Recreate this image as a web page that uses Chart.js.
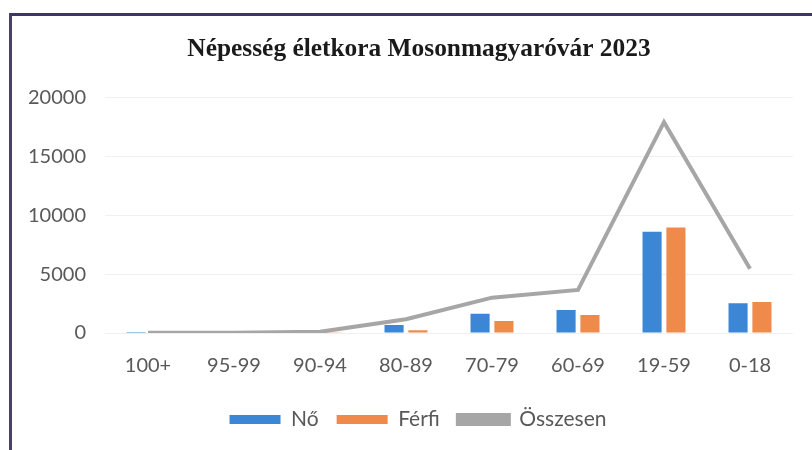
<!DOCTYPE html>
<html lang="hu">
<head>
    <meta charset="UTF-8">
    <title>Népesség életkora Mosonmagyaróvár 2023</title>
    <script src="https://cdn.jsdelivr.net/npm/chart.js"></script>
    <style>
        html, body {
            margin: 0;
            padding: 0;
            background: #fff;
            overflow: hidden;
        }

        .frame {
            position: absolute;
            left: 9px;
            top: 13px;
            width: 900px;
            height: 600px;
            border-top: 3px solid #3f3660;
            border-left: 3px solid #4a3f72;
        }

        .chart-box {
            position: absolute;
            left: 0;
            top: 0;
            width: 812px;
            height: 450px;
        }
    </style>
</head>
<body>
    <div class="frame"></div>
    <div class="chart-box">
        <canvas id="ageChart"></canvas>
    </div>

    <script>
        // age groups, left to right as on the chart
        const ageGroups = ['100+', '95-99', '90-94', '80-89', '70-79', '60-69', '19-59', '0-18'];

        // values
        const women = [8, 15, 50, 680, 1640, 1960, 8600, 2530];
        const men = [3, 8, 20, 230, 1020, 1530, 8960, 2640];
        const total = [20, 30, 100, 1170, 3000, 3660, 17900, 5450];

        const yTicks = [0, 5000, 10000, 15000, 20000];

        const tickFont = { family: 'Lato, "Open Sans", sans-serif', size: 20 };
        const legendFont = { family: 'Lato, "Open Sans", sans-serif', size: 21 };

        // title and legend sit a bit right of the plot centre in the original
        const shiftBlocks = {
            id: 'shiftBlocks',
            afterLayout(chart) {
                if (chart.titleBlock) {
                    chart.titleBlock.left += 18;
                    chart.titleBlock.right += 18;
                }
                if (chart.legend) {
                    chart.legend.left += 17;
                    chart.legend.right += 17;
                }
            }
        };

        const ctx = document.getElementById('ageChart').getContext('2d');
        const chart = new Chart(ctx, {
            type: 'bar',
            data: {
                labels: ageGroups,
                datasets: [{
                    label: 'Nő',
                    data: women,
                    backgroundColor: '#3b87d6',
                    order: 2
                }, {
                    label: 'Férfi',
                    data: men,
                    backgroundColor: '#f08a4b',
                    order: 3
                }, {
                    type: 'line',
                    label: 'Összesen',
                    data: total,
                    borderColor: '#a6a6a6',
                    backgroundColor: '#a6a6a6',
                    borderWidth: 4,
                    tension: 0,
                    pointRadius: 0,
                    order: 1
                }]
            },
            options: {
                responsive: true,
                maintainAspectRatio: false,
                animation: false,
                layout: {
                    padding: { left: 9, right: 19, top: 0, bottom: 10 }
                },
                datasets: {
                    bar: {
                        categoryPercentage: 0.555,
                        barPercentage: 0.8
                    }
                },
                plugins: {
                    title: {
                        display: true,
                        text: 'Népesség életkora Mosonmagyaróvár 2023',
                        color: '#1a1a1a',
                        font: { family: '"Liberation Serif", serif', size: 25.4, weight: 'bold' },
                        padding: { top: 34, bottom: 33 }
                    },
                    legend: {
                        position: 'bottom',
                        labels: {
                            color: '#595959',
                            font: legendFont,
                            boxWidth: 51,
                            boxHeight: 9,
                            padding: 18,
                            sort: (a, b) => a.datasetIndex - b.datasetIndex
                        }
                    },
                    tooltip: { enabled: false }
                },
                scales: {
                    x: {
                        grid: { display: false },
                        border: { display: false },
                        ticks: {
                            color: '#595959',
                            font: tickFont,
                            padding: 13,
                            maxRotation: 0
                        }
                    },
                    y: {
                        min: 0,
                        max: 20000,
                        afterBuildTicks: (axis) => {
                            axis.ticks = yTicks.map(v => ({ value: v }));
                        },
                        grid: { color: '#f0f0f0', drawTicks: false },
                        border: { display: false },
                        ticks: {
                            color: '#595959',
                            font: tickFont,
                            padding: 19,
                            callback: (v) => String(v)
                        }
                    }
                }
            },
            plugins: [shiftBlocks]
        });
    </script>
</body>
</html>
